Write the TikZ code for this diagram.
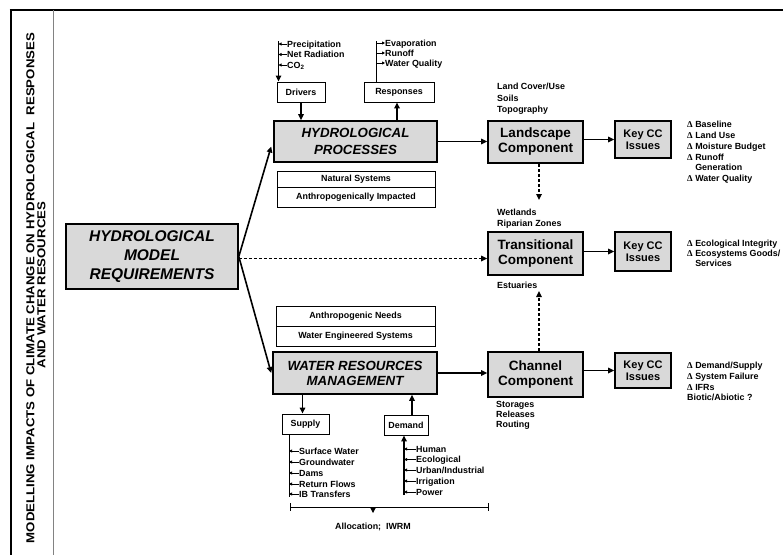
\documentclass[tikz,border=0pt]{standalone}
\usepackage{fontspec}
\setmainfont{Liberation Sans}
\newfontfamily\dserif{Liberation Serif}
\newfontfamily\titlefont[FakeStretch=1.15]{Liberation Sans}
\usetikzlibrary{arrows.meta}
\definecolor{boxgray}{RGB}{217,217,217}
\definecolor{rulegray}{RGB}{130,130,130}
\newcommand\dlt{{\dserif\bfseries Δ}}

\begin{document}
\begin{tikzpicture}[x=1pt,y=-1pt,
  lbl/.style={font=\fontsize{8.9}{10}\selectfont\bfseries, inner sep=0pt, text height=6.4pt, text depth=0pt, anchor=west},
  note/.style={font=\fontsize{8.9}{#1}\selectfont\bfseries, inner sep=0pt, align=left, anchor=north west},
  graybox/.style={draw, line width=1.6pt, fill=boxgray, inner sep=0pt, align=center},
  whitebox/.style={draw, line width=0.9pt, fill=white, inner sep=0pt, align=center, font=\fontsize{8.9}{10}\selectfont\bfseries},
  arr/.style={line width=1.6pt, -{Triangle[length=6pt,width=5.5pt]}},
  darr/.style={arr, dash pattern=on 3pt off 2pt},
  sarr/.style={line width=0.8pt, -{Triangle[length=3pt,width=3pt]}},
  ]
\useasboundingbox (0,0) rectangle (783,555);

% frame and title column
\draw[line width=2.8pt] (9.6,10) -- (783,10);
\draw[line width=2.2pt] (11,10) -- (11,555);
\draw[rulegray, line width=1pt] (53,10) -- (53,555);
\node[rotate=90, font=\fontsize{11.5}{12}\titlefont\bfseries, inner sep=0pt] (title1) at (30.5,288)
  {MODELLING IMPACTS OF CLIMATE CHANGE ON HYDROLOGICAL\ \ RESPONSES};
\node[rotate=90, font=\fontsize{11.5}{12}\titlefont\bfseries, inner sep=0pt] (title2) at (41.5,285)
  {AND WATER RESOURCES};

% main boxes
\node[graybox, minimum width=172pt, minimum height=65pt, font=\fontsize{15.5}{19}\selectfont\bfseries\itshape] (hmr) at (152,256.5) {HYDROLOGICAL\\MODEL\\REQUIREMENTS};
\node[graybox, minimum width=163pt, minimum height=41pt, font=\fontsize{13.3}{17}\selectfont\bfseries\itshape] (hp) at (355.5,141.5) {HYDROLOGICAL\\PROCESSES};
\node[graybox, minimum width=164pt, minimum height=42pt, font=\fontsize{13.3}{15}\selectfont\bfseries\itshape] (wrm) at (355,373) {WATER RESOURCES\\MANAGEMENT};

\node[whitebox, minimum width=158pt, minimum height=16pt] (natA) at (356,179) {Natural Systems};
\node[whitebox, minimum width=158pt, minimum height=20pt] (natB) at (356,197) {Anthropogenically Impacted};
\node[whitebox, minimum width=159pt, minimum height=20pt] (antA) at (355.5,316) {Anthropogenic Needs};
\node[whitebox, minimum width=159pt, minimum height=20pt] (antB) at (355.5,336) {Water Engineered Systems};

\node[whitebox, minimum width=48pt, minimum height=20pt] (drivers) at (301,92) {Drivers};
\node[whitebox, minimum width=70pt, minimum height=20pt] (resp) at (399,92) {Responses};
\node[whitebox, minimum width=47pt, minimum height=20pt] (supply) at (305.5,424) {Supply};
\node[whitebox, minimum width=44pt, minimum height=20pt] (demand) at (406,425) {Demand};

\node[graybox, minimum width=95pt, minimum height=42pt, font=\fontsize{13.5}{15}\selectfont\bfseries] (land) at (535.5,142) {Landscape\\Component};
\node[graybox, minimum width=95pt, minimum height=43pt, font=\fontsize{13.5}{15}\selectfont\bfseries] (trans) at (535.5,253.5) {Transitional\\Component};
\node[graybox, minimum width=95pt, minimum height=45pt, font=\fontsize{13.5}{15}\selectfont\bfseries] (chan) at (535.5,374.5) {Channel\\Component};

\node[graybox, minimum width=56pt, minimum height=37pt, font=\fontsize{11}{12}\selectfont\bfseries] (key1) at (643,139.5) {Key CC\\Issues};
\node[graybox, minimum width=56pt, minimum height=39pt, font=\fontsize{11}{12}\selectfont\bfseries] (key2) at (643,251.5) {Key CC\\Issues};
\node[graybox, minimum width=56pt, minimum height=35pt, font=\fontsize{11}{12}\selectfont\bfseries] (key3) at (643,370.5) {Key CC\\Issues};

% component notes
\node[note=11.5] (landnote) at (497,83) {Land Cover/Use\\Soils\\Topography};
\node[note=11] (wetnote) at (497,209) {Wetlands\\Riparian Zones};
\node[note=11] (estnote) at (497,282) {Estuaries};
\node[note=10] (chnote) at (496,401) {Storages\\Releases\\Routing};

% key issues lists
\node[note=10.8] (iss1) at (687,121) {\dlt\ Baseline\\\dlt\ Land Use\\\dlt\ Moisture Budget\\\dlt\ Runoff\\\phantom{\dlt}\ Generation\\\dlt\ Water Quality};
\node[note=10] (iss2) at (687,240) {\dlt\ Ecological Integrity\\\dlt\ Ecosystems Goods/\\\phantom{\dlt}\ Services};
\node[note=10.7] (iss3) at (687,362) {\dlt\ Demand/Supply\\\dlt\ System Failure\\\dlt\ IFRs\\Biotic/Abiotic ?};

% drivers inputs
\coordinate (din) at (278.5,41);
\draw[line width=1.4pt, -{Triangle[length=6pt,width=5.5pt]}] (din) -- (din |- drivers.north);
\node[lbl] (d1) at (287,44) {Precipitation};
\node[lbl] (d2) at (287,54.5) {Net Radiation};
\node[lbl] (d3) at (287,65) {CO\textsubscript{2}};
\foreach \n in {d1,d2,d3} \draw[sarr] (\n.west) -- (\n.west -| din);

% responses outputs
\coordinate (rout) at (376,41);
\draw[line width=0.8pt] (rout |- resp.north) -- (rout);
\node[lbl] (r1) at (385,43) {Evaporation};
\node[lbl] (r2) at (385,53) {Runoff};
\node[lbl] (r3) at (385,63) {Water Quality};
\foreach \n in {r1,r2,r3} \draw[sarr] (\n.west -| rout) -- (\n.west);

% supply sources
\coordinate (sline) at (289,497);
\draw[line width=0.8pt] (sline |- supply.south) -- (sline);
\node[lbl] (s1) at (299,451) {Surface Water};
\node[lbl] (s2) at (299,462) {Groundwater};
\node[lbl] (s3) at (299,473) {Dams};
\node[lbl] (s4) at (299,484) {Return Flows};
\node[lbl] (s5) at (299,494) {IB Transfers};
\foreach \n in {s1,s2,s3,s4,s5} \draw[sarr] (\n.west) -- (\n.west -| sline);

% demand sectors
\coordinate (dline) at (404,495);
\draw[line width=1.6pt, -{Triangle[length=6pt,width=5.5pt]}] (dline) -- (dline |- demand.south);
\node[lbl] (m1) at (416,449) {Human};
\node[lbl] (m2) at (416,459.5) {Ecological};
\node[lbl] (m3) at (416,470) {Urban/Industrial};
\node[lbl] (m4) at (416,481) {Irrigation};
\node[lbl] (m5) at (416,492) {Power};
\foreach \n in {m1,m2,m3,m4,m5} \draw[sarr] (\n.west) -- (\n.west -| dline);

% allocation bracket
\coordinate (bl) at (290,507);
\coordinate (br) at (488,507);
\coordinate (bm) at (373,507);
\draw[line width=1pt] (bl) -- (br);
\draw[line width=1pt] ([yshift=4pt]bl) -- ([yshift=-4pt]bl);
\draw[line width=1pt] ([yshift=4pt]br) -- ([yshift=-4pt]br);
\node[lbl, anchor=center] (alloc) at (373,526) {Allocation;\ \ IWRM};
\draw[line width=1pt, -{Triangle[length=5pt,width=5pt]}] (bm) -- ++(0,6);

% connectors
\draw[arr] (drivers.south) -- (drivers.south |- hp.north);
\draw[arr] ([xshift=-2pt]resp.south |- hp.north) -- ([xshift=-2pt]resp.south);
\draw[arr] (hp.east) -- (hp.east -| land.west);
\draw[arr] (land.east |- key1.west) -- (key1.west);
\draw[arr] (trans.east |- key2.west) -- (key2.west);
\draw[arr] (chan.east |- key3.west) -- (key3.west);
\draw[arr] (wrm.east) -- (wrm.east -| chan.west);
\draw[arr] (hmr.east) -- ([xshift=-2pt,yshift=-5pt]hp.west);
\draw[arr] (hmr.east) -- ([xshift=-1pt]wrm.west);
\draw[darr] ([yshift=-2pt]hmr.east) -- ([yshift=-2pt]hmr.east -| trans.west);
\coordinate (wetin) at (539,200);
\coordinate (estin) at (539,291);
\draw[darr] (wetin |- land.south) -- (wetin);
\draw[darr] (estin |- chan.north) -- (estin);
\draw[arr] ([xshift=-3pt]supply.north |- wrm.south) -- ([xshift=-3pt]supply.north);
\draw[arr] ([xshift=6pt]demand.north) -- ([xshift=6pt]demand.north |- wrm.south);
\end{tikzpicture}
\end{document}
